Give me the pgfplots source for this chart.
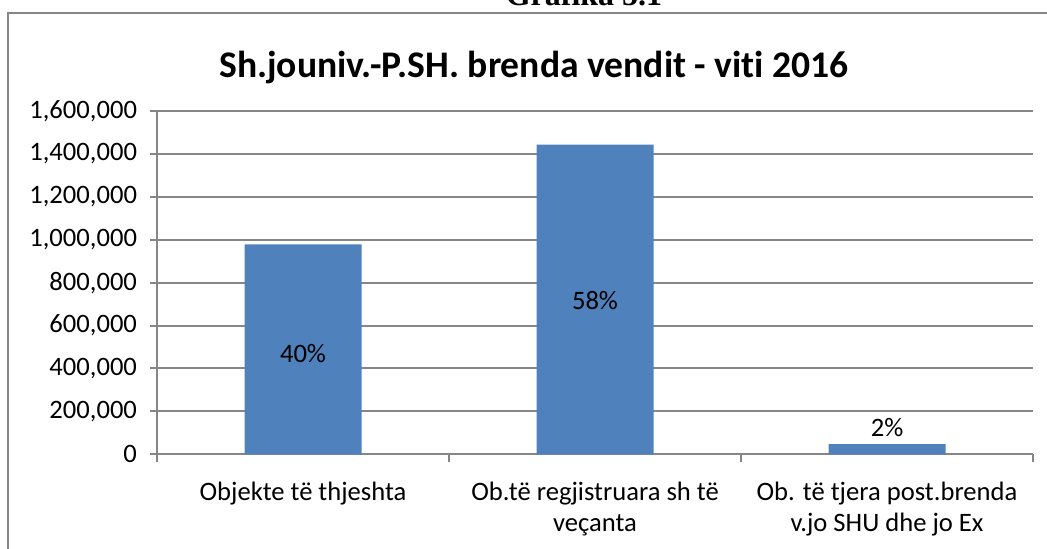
\documentclass[border=0pt]{standalone}
\usepackage{pgfplots}
\pgfplotsset{compat=1.18}
\usepackage{fontspec}
\setmainfont{Carlito}[Ligatures=NoCommon]
\newfontfamily\timesfont{Liberation Serif}
\definecolor{barblue}{HTML}{4F81BD}
\definecolor{gridgray}{HTML}{868686}
\begin{document}
\begin{tikzpicture}
\useasboundingbox (0,0) rectangle (523.5pt,274pt);
\clip (0,0) rectangle (523.5pt,274pt);
\node[anchor=base, inner sep=0pt, font=\timesfont\bfseries\fontsize{16}{19}\selectfont] at (292pt,271.5pt) {Grafika 5.1};
\draw[gridgray, line width=1pt] (3.75pt,-2pt) -- (3.75pt,267.75pt) -- (530pt,267.75pt);
\node[anchor=base, inner sep=0pt, font=\bfseries\fontsize{18.8}{22}\selectfont] at (267pt,235.5pt) {Sh.jouniv.-P.SH. brenda vendit - viti 2016};
\begin{axis}[
  at={(78.5pt,46.85pt)}, anchor=south west, scale only axis,
  width=438pt, height=171.65pt,
  xmin=-0.5, xmax=2.5, ymin=0, ymax=1600000,
  ytick={0,200000,...,1600000},
  scaled y ticks=false,
  yticklabel style={/pgf/number format/.cd, fixed, 1000 sep={,}, assume math mode=true, /tikz/.cd, xshift=-3pt},
  xtick={0,1,2},
  xticklabels={Objekte të thjeshta,{Ob.të regjistruara sh të\\veçanta},{Ob. të tjera post.brenda\\v.jo SHU dhe jo Ex}},
  xticklabel style={align=center, font=\fontsize{13.3}{15.5}\selectfont, yshift=-7pt},
  ticklabel style={font=\fontsize{13.3}{15.5}\selectfont},
  x tick style={draw=none},
  extra x ticks={-0.5,0.5,1.5,2.5},
  extra x tick labels={},
  extra x tick style={major tick length=4pt, tick align=outside, x tick style={draw=gridgray, line width=1pt}},
  y tick style={draw=gridgray, line width=1pt},
  major tick length=3.5pt, tick align=outside,
  axis x line*=bottom, axis y line*=left,
  axis line style={draw=gridgray, line width=1pt},
  ymajorgrids, grid style={draw=gridgray, line width=1pt},
  clip=false,
]
\addplot[ybar, bar width=58.5pt, fill=barblue, draw=none] coordinates {(0,979000) (1,1443000) (2,48000)};
\addplot[draw=none, mark=none, nodes near coords, point meta=explicit symbolic,
  nodes near coords align={center},
  every node near coord/.append style={anchor=center, font=\fontsize{13.3}{15.5}\selectfont}]
  coordinates {(0,467600)[40\%] (1,719000)[58\%] (2,122600)[2\%]};
\end{axis}
\end{tikzpicture}
\end{document}
